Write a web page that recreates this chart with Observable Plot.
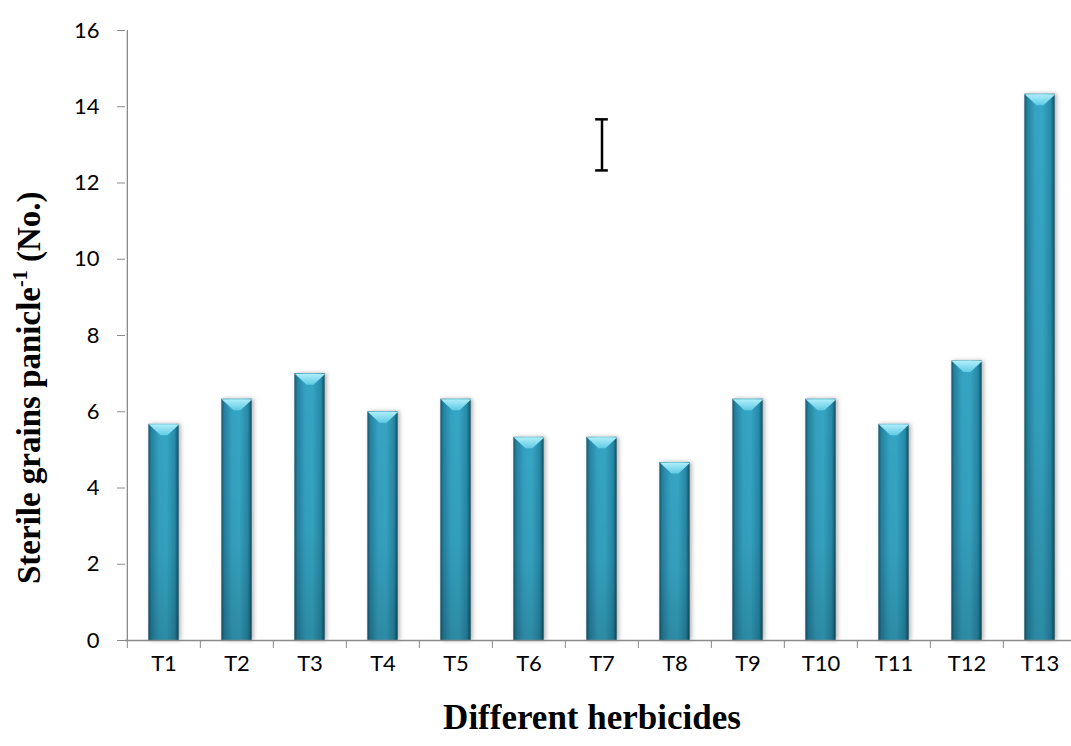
<!DOCTYPE html>
<html><head><meta charset="utf-8">
<script src="https://cdn.jsdelivr.net/npm/d3@7"></script>
<script src="https://cdn.jsdelivr.net/npm/@observablehq/plot@0.6"></script>
<style>body{margin:0;background:#fff;overflow:hidden}</style>
</head><body><div id="chart"></div>
<script>
const treatments = ["T1","T2","T3","T4","T5","T6","T7","T8","T9","T10","T11","T12","T13"];
const sterileGrains = [5.67, 6.33, 7.0, 6.0, 6.33, 5.33, 5.33, 4.67, 6.33, 6.33, 5.67, 7.33, 14.33];
const yTicks = [0, 2, 4, 6, 8, 10, 12, 14, 16];
const errorTreatment = ["T7"];
const errorLow = [12.33];
const errorHigh = [13.67];
const xTitle = "Different herbicides";

const data = treatments.map((t, i) => ({t, v: sterileGrains[i]}));
const err = errorTreatment.map((t, i) => ({t, lo: errorLow[i], hi: errorHigh[i]}));
const errCaps = err.flatMap(d => [{t: d.t, y: d.lo}, {t: d.t, y: d.hi}]);

const W = 1071, H = 746;
const xRange = [125, 1078];
const half = (xRange[1] - xRange[0]) / treatments.length / 2;
const barInset = half - 15.3;
const gray = "#8a8a8a";

const bevel = {
  draw(ctx) {
    ctx.moveTo(-15.3, 0); ctx.lineTo(15.3, 0); ctx.lineTo(3.5, 11); ctx.lineTo(-3.5, 11); ctx.closePath();
  }
};

const svg = Plot.plot({
  width: W, height: H,
  marginLeft: 125, marginRight: 0, marginTop: 30, marginBottom: 106,
  style: {fontFamily: "Lato, sans-serif", fontSize: "22px", color: "#000", background: "#fff"},
  x: {type: "band", domain: treatments, range: xRange, padding: 0, label: null},
  y: {domain: [0, 16], range: [640, 30], label: null},
  marks: [
    Plot.barY(data, {x: "t", y: "v", fill: "url(#barGrad)", insetLeft: barInset, insetRight: barInset}),
    Plot.barY(data, {x: "t", y: "v", fill: "url(#shadeGrad)", insetLeft: barInset, insetRight: barInset}),
    Plot.dot(data, {x: "t", y: "v", symbol: bevel, r: 1, fill: "url(#bevelGrad)", stroke: "none"}),
    Plot.ruleY([0], {stroke: gray, strokeWidth: 1.3}),
    Plot.ruleX(treatments.slice(0, 1), {x: d => d, dx: -half, stroke: gray, strokeWidth: 1.3}),
    Plot.axisY({ticks: yTicks, tickSize: 8, tickPadding: 18, stroke: gray, label: null}),
    Plot.axisX({ticks: treatments, tickSize: 8, dx: -half, stroke: gray, tickFormat: () => "", label: null}),
    Plot.axisX({ticks: treatments, tickSize: 0, tickPadding: 15, label: null}),
    Plot.ruleX(err, {x: "t", y1: "lo", y2: "hi", stroke: "#000", strokeWidth: 2.5}),
    Plot.tickY(errCaps, {x: "t", y: "y", stroke: "#000", strokeWidth: 2.5, insetLeft: half - 6.5, insetRight: half - 6.5})
  ]
});

const s = d3.select(svg);
const defs = s.insert("defs", ":first-child");
const bg = defs.append("linearGradient").attr("id", "barGrad").attr("x1", 0).attr("x2", 1).attr("y1", 0).attr("y2", 0);
[[0, "#17566a"], [0.1, "#2581a0"], [0.35, "#34a2c1"], [0.6, "#36a6c4"], [0.88, "#2789a7"], [1, "#134c5e"]]
  .forEach(([o, c]) => bg.append("stop").attr("offset", o).attr("stop-color", c));
const sg = defs.append("linearGradient").attr("id", "shadeGrad").attr("x1", 0).attr("x2", 0).attr("y1", 0).attr("y2", 1);
[[0, "#000", 0], [0.6, "#000", 0.04], [1, "#000", 0.16]]
  .forEach(([o, c, a]) => sg.append("stop").attr("offset", o).attr("stop-color", c).attr("stop-opacity", a));
const vg = defs.append("linearGradient").attr("id", "bevelGrad").attr("x1", 0).attr("x2", 0).attr("y1", 0).attr("y2", 1);
[[0, "#b0eefb"], [1, "#5fcbe4"]].forEach(([o, c]) => vg.append("stop").attr("offset", o).attr("stop-color", c));
const f = defs.append("filter").attr("id", "shadow").attr("x", "-30%").attr("y", "-10%").attr("width", "160%").attr("height", "120%");
f.append("feDropShadow").attr("dx", 2).attr("dy", 0).attr("stdDeviation", 2).attr("flood-color", "#000").attr("flood-opacity", 0.3);
s.select('g[aria-label="bar"]').attr("filter", "url(#shadow)");

s.append("text").attr("x", 592).attr("y", 729).attr("text-anchor", "middle")
  .style("font-family", "'Liberation Serif', 'Times New Roman', serif").style("font-weight", "bold").style("font-size", "35px")
  .attr("fill", "#000").text(xTitle);

const yt = s.append("text").attr("transform", "translate(40,584) rotate(-90)").attr("text-anchor", "start")
  .style("font-family", "'Liberation Serif', 'Times New Roman', serif").style("font-weight", "bold").style("font-size", "33px")
  .attr("fill", "#000");
yt.append("tspan").text("Sterile grains panicle");
yt.append("tspan").attr("dy", -13).style("font-size", "20px").text("-1");
yt.append("tspan").attr("dy", 13).text(" (No.)");

document.getElementById("chart").append(svg);
</script>
</body></html>
